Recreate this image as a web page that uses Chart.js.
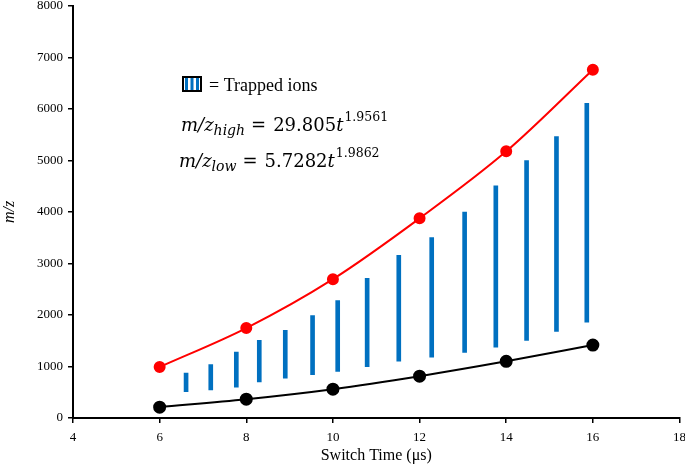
<!DOCTYPE html>
<html>
<head>
<meta charset="utf-8">
<script src="https://cdn.jsdelivr.net/npm/chart.js@4"></script>
<style>
  html, body { margin: 0; padding: 0; background: #fff; overflow: hidden; }
  #wrap { width: 693px; height: 472px; margin-top: -7px; }
</style>
</head>
<body>
<div id="wrap"><canvas id="chart"></canvas></div>
<script>
// switch times (us) and measured m/z limits
var TIMES = [6, 8, 10, 12, 14, 16];
var HIGH_MZ = [990, 1745, 2695, 3875, 5175, 6760];
var LOW_MZ = [210, 365, 560, 812, 1100, 1415];

// trapped ion ranges (vertical bars)
var TRAP_X = [6.61, 7.18, 7.77, 8.30, 8.90, 9.53, 10.11, 10.79, 11.52, 12.28, 13.04, 13.76, 14.47, 15.16, 15.86];
var TRAP_TOP = [870, 1035, 1280, 1505, 1700, 1990, 2280, 2710, 3155, 3500, 3995, 4505, 4995, 5460, 6105];
var TRAP_BOTTOM = [510, 545, 600, 700, 775, 840, 905, 995, 1105, 1180, 1275, 1375, 1505, 1680, 1860];

var SERIF = '"Liberation Serif", "Times New Roman", serif';
var MATH = '"DejaVu Serif", serif';

function pts (xs, ys) {
  return xs.map(function (x, i) { return {x: x, y: ys[i]} })
}

function trapBars () {
  return TRAP_X.map(function (x, i) { return {x: x, y: [TRAP_BOTTOM[i], TRAP_TOP[i]]} })
}

// one fit equation: m/z_sub = coef t^expo
function drawEquation (ctx, x, y, sub, coef, expo) {
  ctx.textBaseline = 'alphabetic'
  ctx.textAlign = 'left'
  ctx.fillStyle = '#000'
  ctx.font = 'italic 18px ' + MATH
  ctx.fillText('m/z', x, y)
  x += ctx.measureText('m/z').width
  ctx.font = 'italic 14px ' + MATH
  ctx.fillText(sub, x, y + 4)
  x += ctx.measureText(sub).width + 6
  ctx.font = '18px ' + MATH
  ctx.fillText('=', x, y)
  x += ctx.measureText('=').width + 7
  ctx.fillText(coef, x, y)
  x += ctx.measureText(coef).width
  ctx.font = 'italic 18px ' + MATH
  ctx.fillText('t', x, y)
  x += ctx.measureText('t').width + 1
  ctx.font = '12.5px ' + MATH
  ctx.fillText(expo, x, y - 10)
}

// drawn in page coordinates; the canvas sits 7px higher than the page
var annotations = {
  id: 'annotations',
  afterDraw: function (chart) {
    var ctx = chart.ctx
    ctx.save()
    ctx.translate(0, 7)
    // key box
    var bx = 183, by = 77, bw = 18, bh = 14
    ctx.fillStyle = '#fff'
    ctx.fillRect(bx, by, bw, bh)
    ctx.fillStyle = '#0070C0'
    for (var i = 0; i < 3; i++) {
      ctx.fillRect(bx + 2 + i * 5.5, by + 1, 3, bh - 2)
    }
    ctx.strokeStyle = '#000'
    ctx.lineWidth = 2
    ctx.strokeRect(bx, by, bw, bh)
    ctx.fillStyle = '#000'
    ctx.font = '18px ' + SERIF
    ctx.textBaseline = 'alphabetic'
    ctx.fillText('= Trapped ions', 209, 91)

    drawEquation(ctx, 181, 131, 'high', '29.805', '1.9561')
    drawEquation(ctx, 179, 167, 'low', '5.7282', '1.9862')
    ctx.restore()
  }
}

new Chart(document.getElementById('chart').getContext('2d'), {
  type: 'bar',
  data: {
    datasets: [
      {
        type: 'bar',
        data: trapBars(),
        backgroundColor: '#0070C0',
        barThickness: 4,
        borderWidth: 0
      },
      {
        type: 'line',
        data: pts(TIMES, HIGH_MZ),
        borderColor: '#ff0000',
        backgroundColor: '#ff0000',
        borderWidth: 2,
        pointRadius: 5,
        cubicInterpolationMode: 'monotone'
      },
      {
        type: 'line',
        data: pts(TIMES, LOW_MZ),
        borderColor: '#000',
        backgroundColor: '#000',
        borderWidth: 2,
        pointRadius: 5.5,
        cubicInterpolationMode: 'monotone'
      }
    ]
  },
  options: {
    responsive: true,
    maintainAspectRatio: false,
    animation: false,
    events: [],
    layout: { padding: 0 },
    plugins: { legend: { display: false }, tooltip: { enabled: false } },
    scales: {
      x: {
        type: 'linear',
        offset: false,
        min: 4,
        max: 18,
        ticks: { stepSize: 2, color: '#000', font: { family: SERIF, size: 13 }, padding: 7, maxRotation: 0 },
        grid: { drawOnChartArea: false, offset: false, color: '#000', tickLength: 5, lineWidth: 1.5 },
        border: { color: '#000', width: 2 },
        title: { display: true, text: 'Switch Time (μs)', color: '#000', font: { family: SERIF, size: 16 }, padding: { top: 2, bottom: 0 } },
        afterFit: function (scale) { scale.height = 47 }
      },
      y: {
        min: 0,
        max: 8000,
        ticks: {
          stepSize: 1000, color: '#000', font: { family: SERIF, size: 13 }, padding: 5,
          callback: function (v) { return String(v) }
        },
        grid: { drawOnChartArea: false, color: '#000', tickLength: 5, lineWidth: 1.5 },
        border: { color: '#000', width: 2 },
        title: { display: true, text: 'm/z', color: '#000', font: { family: SERIF, size: 16, style: 'italic' }, padding: { top: 0, bottom: 6 } },
        afterFit: function (scale) { scale.width = 73 }
      }
    }
  },
  plugins: [annotations]
});
</script>
</body>
</html>
